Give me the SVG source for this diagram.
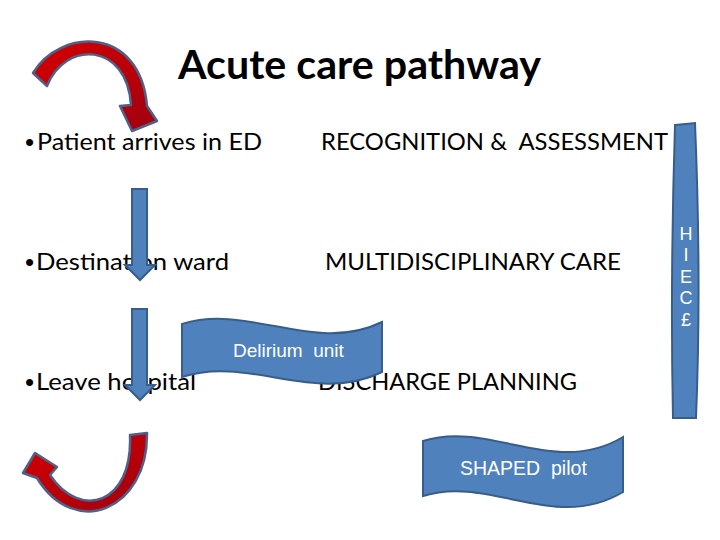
<svg xmlns="http://www.w3.org/2000/svg" width="720" height="540" viewBox="0 0 720 540">
<style>
.t{font-family:Lato,"Liberation Sans",sans-serif;font-size:24px;fill:#000}
.b{font-family:"Liberation Sans",Arial,sans-serif;font-size:26px;fill:#000}
.ti{font-family:Lato,"Liberation Sans",sans-serif;font-size:40px;font-weight:bold;fill:#000}
.w{font-family:"Liberation Sans",Arial,sans-serif;fill:#fff}
.blue{fill:#4f81bd;stroke:#385d8a;stroke-width:2}
.red{fill:url(#rg);stroke:#4e6189;stroke-width:2.5;stroke-linejoin:round}
</style>
<defs>
<linearGradient id="rg" x1="0" y1="0" x2="1" y2="1">
<stop offset="0" stop-color="#d40000"/>
<stop offset="1" stop-color="#a00010"/>
</linearGradient>
</defs>
<rect width="720" height="540" fill="#fff"/>
<g id="title"><text class="ti" x="178" y="79" textLength="363" lengthAdjust="spacingAndGlyphs">Acute care pathway</text></g>
<g id="patient"><text class="b" x="25" y="151">•</text><text class="t" x="37" y="150" textLength="225" lengthAdjust="spacingAndGlyphs">Patient arrives in ED</text></g>
<g id="recognition"><text class="t" x="321" y="150" xml:space="preserve" textLength="347" lengthAdjust="spacingAndGlyphs">RECOGNITION &amp;  ASSESSMENT</text></g>
<g id="destination"><text class="b" x="25" y="271">•</text><text class="t" x="36" y="270" textLength="193" lengthAdjust="spacingAndGlyphs">Destination ward</text></g>
<g id="multidisciplinary"><text class="t" x="325" y="270" textLength="296" lengthAdjust="spacingAndGlyphs">MULTIDISCIPLINARY CARE</text></g>
<g id="leave"><text class="b" x="25" y="391">•</text><text class="t" x="36" y="390" textLength="160" lengthAdjust="spacingAndGlyphs">Leave hospital</text></g>
<g id="discharge"><text class="t" x="318" y="390" textLength="259" lengthAdjust="spacingAndGlyphs">DISCHARGE PLANNING</text></g>
<g id="connectors">
<path class="red" d="M33,73 C60,28 140,25 147,106 L157,121 L132,131 L120,106 L131,105 C127,42 65,40 47,86 Z"/>
<path class="blue" d="M132,189 L147,189 L147,265 L155,265 L140,280 L125,265 L132,265 Z"/>
<path class="blue" d="M132,309 L147,309 L147,385 L155,385 L140,400 L125,385 L132,385 Z"/>
<path class="red" d="M130,435 L147,433 C148,510 75,540 37,478 L23,473 L35,453 L57,467 L50,475 C80,520 133,505 130,435 Z"/>
</g>
<g id="delirium">
<path class="blue" d="M182,324 C249,303 315,355 382,322 L382,372 C315,405 249,355 182,377 Z"/>
<text class="w" x="233" y="357" font-size="19" xml:space="preserve">Delirium  unit</text>
</g>
<g id="shaped">
<path class="blue" d="M423,441 C490,420 555,478 623,437 L623,492 C555,533 490,475 423,496 Z"/>
<text class="w" x="460" y="475" font-size="19.5" xml:space="preserve">SHAPED  pilot</text>
</g>
<g id="hiec">
<path class="blue" d="M675,125 L695,123 C699,220 700,320 696,418 L673,418 C671,320 672,220 675,125 Z"/>
<g class="w" font-size="18" text-anchor="middle">
<text x="686" y="240">H</text>
<text x="686" y="261">I</text>
<text x="686" y="283">E</text>
<text x="686" y="304">C</text>
<text x="686" y="326">£</text>
</g>
</g>
</svg>
